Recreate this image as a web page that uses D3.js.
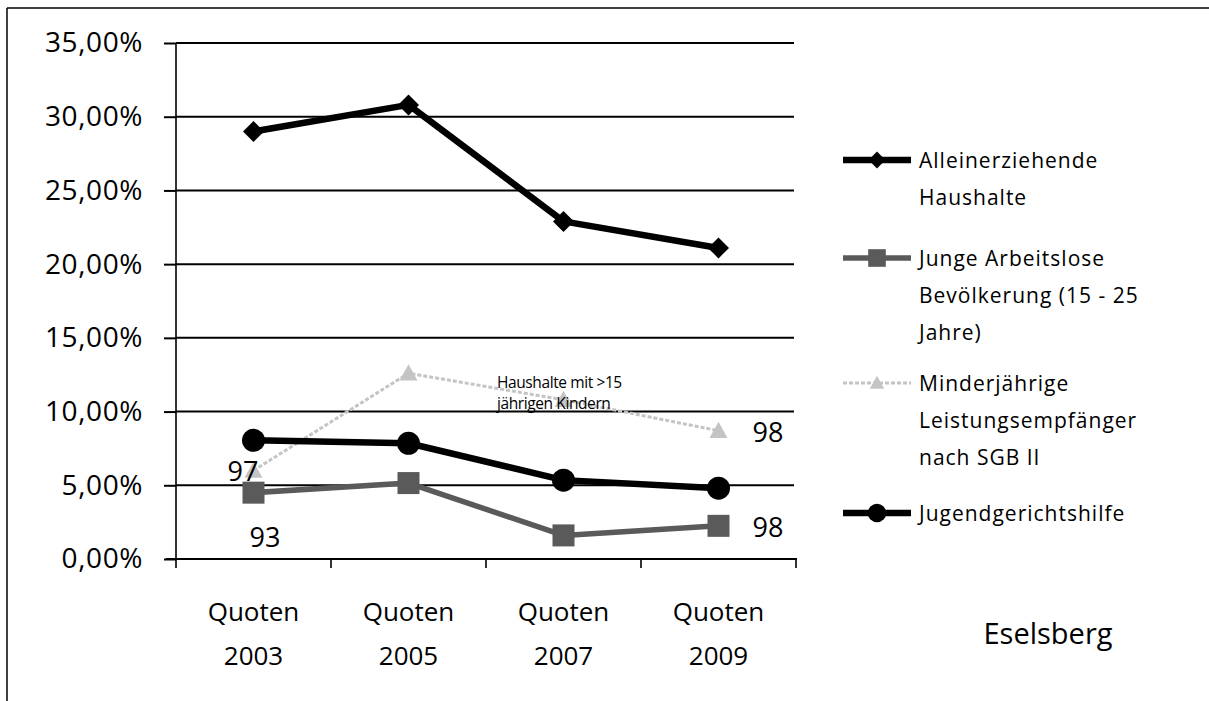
<!DOCTYPE html>
<html>
<head>
<meta charset="utf-8">
<script src="https://cdnjs.cloudflare.com/ajax/libs/d3/7.8.5/d3.min.js"></script>
<style>
  html, body { margin: 0; padding: 0; background: #fff; }
  svg { display: block; }
</style>
</head>
<body>
<div id="chart"></div>
<script>
// ---------- data ----------
const categories = ["Quoten 2003", "Quoten 2005", "Quoten 2007", "Quoten 2009"];
const seriesNames = [
  "Alleinerziehende Haushalte",
  "Junge  Arbeitslose Bevölkerung (15 - 25 Jahre)",
  "Minderjährige Leistungsempfänger nach SGB II",
  "Jugendgerichtshilfe"
];
const legendLines = [
  ["Alleinerziehende", "Haushalte"],
  ["Junge  Arbeitslose", "Bevölkerung (15 - 25", "Jahre)"],
  ["Minderjährige", "Leistungsempfänger", "nach SGB II"],
  ["Jugendgerichtshilfe"]
];
const alleinerziehende   = [29.0, 30.8, 22.9, 21.1];
const jungeArbeitslose   = [4.5, 5.15, 1.6, 2.25];
const minderjaehrige     = [6.0, 12.6, 10.8, 8.7];
const jugendgerichtshilfe = [8.05, 7.85, 5.35, 4.8];
const yTicks = [0, 5, 10, 15, 20, 25, 30, 35];
// point labels: [series index, category index, text]
const pointLabels = [
  [2, 0, "97"],
  [1, 0, "93"],
  [2, 3, "98"],
  [1, 3, "98"]
];
const annotationLines = ["Haushalte mit >15", "jährigen Kindern"];
const areaTitle = "Eselsberg";

// ---------- layout ----------
const W = 1209, H = 701;
const plot = { left: 176, right: 796, top: 43, bottom: 559 };
const FONT = "'Open Sans', 'Noto Sans', sans-serif";

const svg = d3.select("#chart").append("svg")
  .attr("width", W).attr("height", H)
  .style("font-family", FONT);

// outer frame (top and left edges)
svg.append("line").attr("x1", 7).attr("x2", W).attr("y1", 8).attr("y2", 8)
  .attr("stroke", "#000").attr("stroke-width", 1.5);
svg.append("line").attr("x1", 7).attr("x2", 7).attr("y1", 8).attr("y2", H)
  .attr("stroke", "#000").attr("stroke-width", 1.5);

const xBand = d3.scaleBand().domain(categories).range([plot.left, plot.right]).paddingInner(0).paddingOuter(0);
const x = c => xBand(c) + xBand.bandwidth() / 2;
const y = d3.scaleLinear().domain([0, 35]).range([plot.bottom, plot.top]);

// gridlines
svg.append("g").selectAll("line").data(yTicks.filter(t => t > 0)).join("line")
  .attr("x1", plot.left).attr("x2", plot.right - 2)
  .attr("y1", d => y(d)).attr("y2", d => y(d))
  .attr("stroke", "#000").attr("stroke-width", 2);

// y axis
const yAxis = d3.axisLeft(y).tickValues(yTicks).tickSize(12).tickPadding(21)
  .tickFormat(d => d3.format(".2f")(d).replace(".", ",") + "%");
const gy = svg.append("g").attr("transform", `translate(${plot.left},0)`).call(yAxis);
gy.select(".domain").attr("stroke", "#000").attr("stroke-width", 1.6).attr("d", `M0,${plot.top}V${plot.bottom}`);
gy.selectAll(".tick line").attr("stroke", "#000").attr("stroke-width", 2);
gy.selectAll(".tick text").attr("font-size", 28).attr("letter-spacing", 0.6)
  .attr("fill", "#000").style("font-family", FONT);

// x axis (ticks at category boundaries)
const gx = svg.append("g");
gx.append("line").attr("x1", plot.left - 10).attr("x2", plot.right + 1)
  .attr("y1", plot.bottom).attr("y2", plot.bottom).attr("stroke", "#000").attr("stroke-width", 2);
const boundaries = categories.map(c => xBand(c)).concat([xBand(categories[categories.length - 1]) + xBand.bandwidth()]);
gx.selectAll("line.tk").data(boundaries).join("line").attr("class", "tk")
  .attr("x1", d => d).attr("x2", d => d)
  .attr("y1", plot.bottom).attr("y2", plot.bottom + 9)
  .attr("stroke", "#000").attr("stroke-width", 1.6);
// category labels
const catG = gx.selectAll("text.cat").data(categories).join("text").attr("class", "cat")
  .attr("text-anchor", "middle").attr("font-size", 26).attr("fill", "#000");
catG.each(function(c) {
  const parts = c.split(" ");
  const t = d3.select(this);
  parts.forEach((p, i) => {
    t.append("tspan").attr("x", x(c)).attr("y", 621 + i * 44).text(p);
  });
});

// ---------- series ----------
const series = [
  { values: alleinerziehende, color: "#000", width: 6.5, marker: "diamond", msize: 21 },
  { values: jungeArbeitslose, color: "#5a5a5a", width: 5.5, marker: "square", msize: 22 },
  { values: minderjaehrige, color: "#c4c4c4", width: 3, marker: "triangle", msize: 18, dash: "4,2" },
  { values: jugendgerichtshilfe, color: "#000", width: 6.5, marker: "circle", msize: 23 }
];

const line = d3.line().x((d, i) => x(categories[i])).y(d => y(d));

function drawMarker(g, type, cx, cy, size, color) {
  if (type === "diamond") {
    const s = size / 2;
    g.append("path").attr("d", `M${cx},${cy - s}L${cx + s},${cy}L${cx},${cy + s}L${cx - s},${cy}Z`).attr("fill", color);
  } else if (type === "square") {
    g.append("rect").attr("x", cx - size / 2).attr("y", cy - size / 2).attr("width", size).attr("height", size).attr("fill", color);
  } else if (type === "triangle") {
    const s = size / 2;
    g.append("path").attr("d", `M${cx},${cy - s}L${cx + s},${cy + s * 0.8}L${cx - s},${cy + s * 0.8}Z`).attr("fill", color);
  } else {
    g.append("circle").attr("cx", cx).attr("cy", cy).attr("r", size / 2).attr("fill", color);
  }
}

// draw order: light series first
[2, 1, 3, 0].forEach(si => {
  const s = series[si];
  const g = svg.append("g");
  g.append("path").datum(s.values).attr("d", line)
    .attr("fill", "none").attr("stroke", s.color).attr("stroke-width", s.width)
    .attr("stroke-linejoin", "round").attr("stroke-dasharray", s.dash || null);
  s.values.forEach((v, i) => drawMarker(g, s.marker, x(categories[i]), y(v), s.msize, s.color));
});

// point labels
svg.append("g").selectAll("text").data(pointLabels).join("text")
  .attr("font-size", 27).attr("fill", "#000")
  .attr("text-anchor", d => d[1] === 0 ? "end" : "start")
  .attr("x", d => x(categories[d[1]]) + (d[1] === 0 ? (d[0] === 2 ? 5 : 27) : 34))
  .attr("y", d => y(series[d[0]].values[d[1]]) + (d[1] === 0 ? (d[0] === 2 ? 10 : 54) : 11))
  .text(d => d[2]);

// annotation
const ann = svg.append("text").attr("font-size", 15.5).attr("fill", "#000").attr("letter-spacing", -0.4);
annotationLines.forEach((l, i) => ann.append("tspan")
  .attr("x", (x(categories[1]) + x(categories[2])) / 2 + 11)
  .attr("y", y(12.6) + 15 + i * 21).text(l));

// ---------- legend ----------
const legendTop = [160, 258, 383, 513];
const lg = svg.append("g");
series.forEach((s, si) => {
  const ly = legendTop[si];
  const g = lg.append("g");
  g.append("line").attr("x1", 843).attr("x2", 911).attr("y1", ly).attr("y2", ly)
    .attr("stroke", s.color).attr("stroke-width", s.width).attr("stroke-dasharray", s.dash || null);
  drawMarker(g, s.marker, 877, ly, s.msize * 0.8, s.color);
  const t = g.append("text").attr("font-size", 21).attr("fill", "#000").attr("letter-spacing", 1);
  legendLines[si].forEach((l, i) => t.append("tspan").attr("x", 919).attr("y", ly + 8 + i * 37).text(l));
});

// area title
svg.append("text").attr("x", 1048).attr("y", 644).attr("text-anchor", "middle")
  .attr("font-size", 29).attr("fill", "#000").text(areaTitle);
</script>
</body>
</html>
